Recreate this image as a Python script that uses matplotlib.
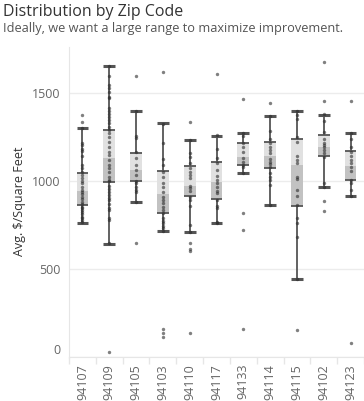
import numpy as np
import matplotlib.pyplot as plt

plt.rcParams['font.family'] = ['Open Sans', 'DejaVu Sans']

zips = ['94107', '94109', '94105', '94103', '94110', '94117',
        '94133', '94114', '94115', '94102', '94123']

# box stats (avg $/sq ft)
whisker_hi = [1301, 1655, 1400, 1330, 1235, 1256, 1275, 1371, 1400, 1377, 1275]
q3 = [1047, 1290, 1161, 1057, 1085, 1108, 1216, 1222, 1239, 1261, 1170]
median = [943, 1131, 1062, 926, 972, 994, 1136, 1142, 1091, 1193, 1085]
q1 = [864, 994, 1000, 818, 915, 898, 1091, 1074, 858, 1142, 1006]
whisker_lo = [763, 644, 883, 718, 710, 761, 1047, 864, 443, 966, 915]

# individual listings per zip
pts_94107 = [1373, 1333, 1303, 1214, 1205, 1182, 1170, 1144, 1091, 1076, 1049,
             1034, 1015, 1000, 987, 968, 949, 939, 924, 911, 898, 883, 867,
             854, 845, 833, 822, 811, 797, 788, 778, 765]
pts_94109 = [1655, 1598, 1545, 1530, 1504, 1479, 1470, 1413, 1398, 1379, 1366,
             1347, 1328, 1309, 1290, 1271, 1252, 1220, 1195, 1167, 1148, 1119,
             1091, 1072, 1049, 1025, 1006, 1000, 974, 955, 936, 920, 905, 892,
             867, 848, 835, 792, 778, 646, 28]
pts_94105 = [1595, 1398, 1258, 1242, 1163, 1129, 1091, 1062, 1034, 1000, 987,
             968, 949, 936, 883, 646]
pts_94103 = [1619, 1324, 1214, 1123, 1091, 1053, 1021, 987, 964, 939, 911, 892,
             873, 854, 835, 816, 788, 775, 759, 744, 731, 716, 160, 136, 115]
pts_94110 = [1333, 1233, 1157, 1138, 1100, 1072, 1053, 1034, 1015, 972, 958,
             945, 911, 892, 858, 750, 712, 646, 614, 604, 134]
pts_94117 = [1608, 1261, 1180, 1129, 1100, 1062, 1028, 1006, 987, 968, 945,
             930, 892, 858, 845, 769, 763]
pts_94133 = [1464, 1275, 1256, 1214, 1195, 1167, 1129, 1110, 1091, 1078, 1047,
             816, 722, 159]
pts_94114 = [1441, 1371, 1286, 1237, 1218, 1195, 1176, 1161, 1123, 1110, 1097,
             1078, 1047, 1025, 1003, 977, 864]
pts_94115 = [1400, 1375, 1350, 1248, 1223, 1142, 1119, 1100, 1025, 1013, 949,
             915, 864, 788, 759, 682, 443, 153]
pts_94102 = [1676, 1455, 1379, 1341, 1277, 1237, 1218, 1205, 1191, 1176, 1157,
             1138, 991, 968, 886, 830]
pts_94123 = [1455, 1275, 1237, 1195, 1167, 1142, 1119, 1100, 1078, 1059, 1003,
             991, 949, 915, 80]
points = [pts_94107, pts_94109, pts_94105, pts_94103, pts_94110, pts_94117,
          pts_94133, pts_94114, pts_94115, pts_94102, pts_94123]

fig = plt.figure(figsize=(3.64, 4.01), dpi=100)
ax = fig.add_axes([69/364, 1 - 357/401, 1 - 69/364, (357 - 47)/401])

x = np.arange(len(zips))
bw = 0.44
line_c = '#555555'

# two-tone box: light upper half, darker lower half
ax.bar(x, np.array(q3) - np.array(median), bottom=median, width=bw,
       color='#e1e1e1', zorder=2)
ax.bar(x, np.array(median) - np.array(q1), bottom=q1, width=bw,
       color='#c2c2c2', zorder=2)
ax.hlines(q3, x - bw/2, x + bw/2, color=line_c, lw=1.3, zorder=3)
ax.hlines(q1, x - bw/2, x + bw/2, color=line_c, lw=1.3, zorder=3)

# whiskers + caps
ax.vlines(x, q3, whisker_hi, color=line_c, lw=1.3, zorder=3)
ax.vlines(x, whisker_lo, q1, color=line_c, lw=1.3, zorder=3)
ax.hlines(whisker_hi, x - bw/2, x + bw/2, color=line_c, lw=2.2, zorder=3)
ax.hlines(whisker_lo, x - bw/2, x + bw/2, color=line_c, lw=2.2, zorder=3)

for i, vals in enumerate(points):
    ax.scatter(np.full(len(vals), x[i]), vals, s=6, color='#2b2b2b',
               alpha=0.6, linewidths=0, zorder=4)

ax.set_xlim(-0.5, len(zips) - 0.5)
ax.set_ylim(0, 1761)
ax.set_yticks([0, 500, 1000, 1500])
ax.yaxis.grid(True, color='#ececec', lw=1)
ax.set_axisbelow(True)

ax.set_xticks(x)
ax.set_xticklabels(zips, rotation=90, color='#666666', fontsize=9)
ax.set_xticks(np.arange(len(zips) + 1) - 0.5, minor=True)
ax.tick_params(axis='x', which='major', length=0, pad=5)
ax.tick_params(axis='x', which='minor', length=5, color='#e6e6e6', width=1)
ax.tick_params(axis='y', length=0, pad=6, labelcolor='#666666', labelsize=9)
# Tableau nudges the bottom label up inside the axis
ax.get_yticklabels()[0].set_va('bottom')

for s in ['top', 'right']:
    ax.spines[s].set_visible(False)
ax.spines['left'].set_color('#e6e6e6')
ax.spines['bottom'].set_color('#e6e6e6')

fig.text(20/364, 1 - 201/401, 'Avg. $/Square Feet', rotation=90,
         ha='center', va='center', fontsize=9, color='#333333')
fig.text(3/364, 1 - 4/401, 'Distribution by Zip Code', ha='left', va='top',
         fontsize=11.5, color='#333333')
fig.text(3/364, 1 - 22/401, 'Ideally, we want a large range to maximize improvement.',
         ha='left', va='top', fontsize=9.2, color='#555555')

fig.savefig('out.png', dpi=100)
